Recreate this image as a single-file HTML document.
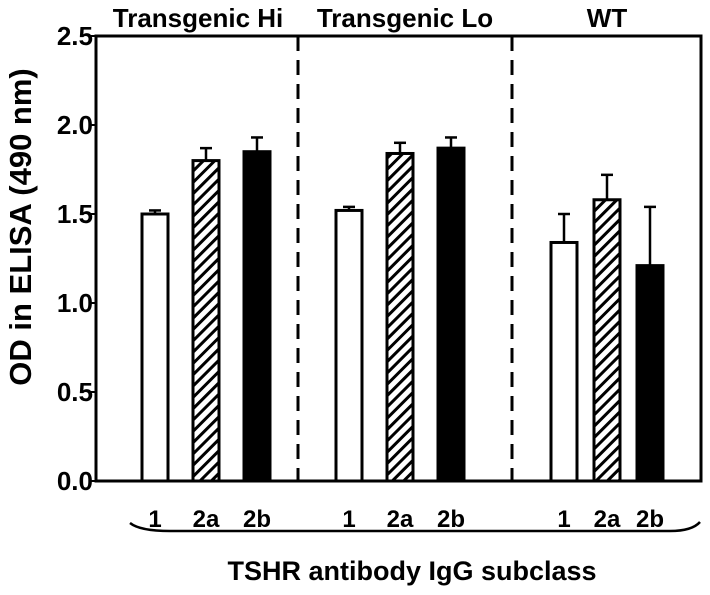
<!DOCTYPE html>
<html><head><meta charset="utf-8"><style>
body{margin:0;background:#fff;}
svg text{font-family:"Liberation Sans",Arial,sans-serif;font-weight:bold;fill:#000;}
</style></head><body>
<svg id="chart" width="710" height="590" viewBox="0 0 710 590" xmlns="http://www.w3.org/2000/svg">
<defs>
<pattern id="hatch" patternUnits="userSpaceOnUse" width="8" height="8" patternTransform="rotate(45)">
<rect width="8" height="8" fill="#fff"/><rect x="0" y="0" width="3" height="8" fill="#000"/>
</pattern>
</defs>
<g id="axes"></g>
<g id="marks"></g>
</svg>
<script>
const groups = ["Transgenic Hi","Transgenic Lo","WT"];
const subclasses = ["1","2a","2b"];
const means = [[1.50,1.80,1.85],[1.52,1.84,1.87],[1.34,1.58,1.21]];
const errors = [[0.02,0.07,0.08],[0.02,0.06,0.06],[0.16,0.14,0.33]];
const yTicks = [0.0,0.5,1.0,1.5,2.0,2.5];
const yTickLabels = ["0.0","0.5","1.0","1.5","2.0","2.5"];

const NS="http://www.w3.org/2000/svg";
const X0=96,X1=701,Y0=481,Y1=36;
function y(v){return Y0-(v/2.5)*(Y0-Y1);}
const groupCenters=[206,400,607];
const headingCenters=[198,405,607];
const barSpacing=[51,51,43];
function barX(g,s){return groupCenters[g]+(s-1)*barSpacing[g];}
const BW=26;
function mk(tag,attrs,parent,text){const e=document.createElementNS(NS,tag);for(const k in attrs)e.setAttribute(k,attrs[k]);if(text!==undefined)e.textContent=text;parent.appendChild(e);return e;}
const ax=document.getElementById('axes'), mg=document.getElementById('marks');

let e;
e=mk('rect',{x:X0,y:Y1,width:X1-X0,height:Y0-Y1,fill:'none',stroke:'#000','stroke-width':3},ax);


[298,512].forEach((dx,i)=>{
  const l=mk('line',{x1:dx,y1:Y1,x2:dx,y2:Y0,stroke:'#000','stroke-width':3,'stroke-dasharray':'15,9'},ax);
  
  
});
yTicks.forEach((t,i)=>{
  const l=mk('line',{x1:X0-5,y1:y(t),x2:X0,y2:y(t),stroke:'#000','stroke-width':2},ax);
  
  
  const tx=mk('text',{x:X0-3,y:y(t)+9,'text-anchor':'end','font-size':26},ax,yTickLabels[i]);
  
  
});
e=mk('text',{x:0,y:0,'text-anchor':'middle','font-size':31,transform:'translate(31,227) rotate(-90)'},ax,'OD in ELISA (490 nm)');


groups.forEach((g,i)=>{
  const t=mk('text',{x:headingCenters[i],y:27,'text-anchor':'middle','font-size':26},ax,g);
  
  
});
means.forEach((row,g)=>{
  row.forEach((v,s)=>{
    const cx=barX(g,s);
    const fill=s==0?'#fff':(s==1?'url(#hatch)':'#000');
    const el=mk('line',{x1:cx,y1:y(v),x2:cx,y2:y(v+errors[g][s]),stroke:'#000','stroke-width':2.5},mg);
    
    
    const cap=mk('line',{x1:cx-6,y1:y(v+errors[g][s]),x2:cx+6,y2:y(v+errors[g][s]),stroke:'#000','stroke-width':2.5},mg);
    
    
    const r=mk('rect',{x:cx-BW/2,y:y(v),width:BW,height:Y0-y(v),fill:fill,stroke:'#000','stroke-width':3},mg);
    
    
    const lb=mk('text',{x:cx,y:527,'text-anchor':'middle','font-size':24},ax,subclasses[s]);
    
    
  });
});
e=mk('path',{d:'M130,523 Q140,531 170,531 L670,531 Q692,531 700,522',fill:'none',stroke:'#000','stroke-width':2.5},ax);


e=mk('text',{x:412,y:580,'text-anchor':'middle','font-size':27},ax,'TSHR antibody IgG subclass');


</script>
</body></html>
